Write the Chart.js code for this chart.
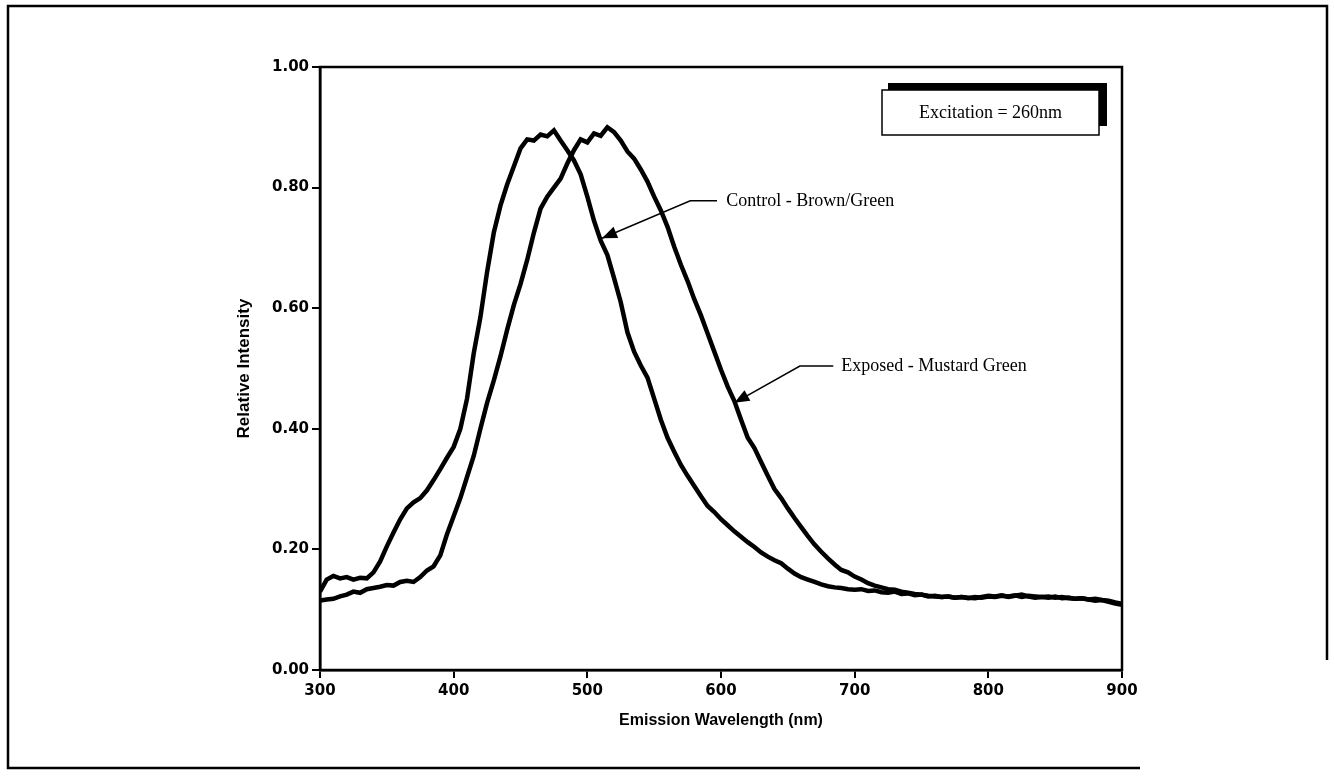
<!DOCTYPE html>
<html>
<head>
<meta charset="utf-8">
<script src="https://cdn.jsdelivr.net/npm/chart.js@4.4.1/dist/chart.umd.min.js"></script>
<style>
  html, body { margin: 0; padding: 0; background: #fff; }
  canvas { display: block; }
</style>
</head>
<body>
<canvas id="chart" width="1335" height="776"></canvas>
<script>
const tickFont = { family: "'DejaVu Sans', sans-serif", size: 15, weight: 'bold' };
const xTitleFont = { family: "'Liberation Sans', Arial, sans-serif", size: 16, weight: 'bold' };
const yTitleFont = { family: "'Liberation Sans', Arial, sans-serif", size: 17, weight: 'bold' };
const noteFont = "18px 'Liberation Serif', 'Times New Roman', serif";

// emission wavelength (nm), 5 nm steps
const wavelengths = [
  300, 305, 310, 315, 320, 325, 330, 335, 340, 345,
  350, 355, 360, 365, 370, 375, 380, 385, 390, 395,
  400, 405, 410, 415, 420, 425, 430, 435, 440, 445,
  450, 455, 460, 465, 470, 475, 480, 485, 490, 495,
  500, 505, 510, 515, 520, 525, 530, 535, 540, 545,
  550, 555, 560, 565, 570, 575, 580, 585, 590, 595,
  600, 605, 610, 615, 620, 625, 630, 635, 640, 645,
  650, 655, 660, 665, 670, 675, 680, 685, 690, 695,
  700, 705, 710, 715, 720, 725, 730, 735, 740, 745,
  750, 755, 760, 765, 770, 775, 780, 785, 790, 795,
  800, 805, 810, 815, 820, 825, 830, 835, 840, 845,
  850, 855, 860, 865, 870, 875, 880, 885, 890, 895,
  900
];

const controlBrownGreen = [
  0.130, 0.150, 0.156, 0.152, 0.154, 0.150, 0.153, 0.152, 0.162, 0.180,
  0.205, 0.228, 0.250, 0.268, 0.278, 0.285, 0.298, 0.315, 0.333, 0.352,
  0.370, 0.400, 0.450, 0.525, 0.585, 0.660, 0.725, 0.770, 0.805, 0.835,
  0.865, 0.880, 0.878, 0.888, 0.885, 0.895, 0.878, 0.862, 0.845, 0.822,
  0.785, 0.745, 0.712, 0.688, 0.650, 0.610, 0.560, 0.528, 0.505, 0.485,
  0.450, 0.415, 0.385, 0.362, 0.340, 0.322, 0.305, 0.288, 0.272, 0.262,
  0.250, 0.240, 0.230, 0.221, 0.212, 0.204, 0.195, 0.188, 0.182, 0.177,
  0.168, 0.160, 0.154, 0.150, 0.146, 0.142, 0.139, 0.137, 0.136, 0.134,
  0.133, 0.134, 0.131, 0.132, 0.129, 0.128, 0.130, 0.126, 0.127, 0.124,
  0.125, 0.122, 0.123, 0.121, 0.122, 0.120, 0.121, 0.119, 0.121, 0.120,
  0.122, 0.121, 0.123, 0.122, 0.124, 0.121, 0.123, 0.122, 0.121, 0.120,
  0.122, 0.119, 0.120, 0.118, 0.119, 0.117, 0.118, 0.116, 0.115, 0.112,
  0.110
];

const exposedMustardGreen = [
  0.115, 0.117, 0.118, 0.122, 0.125, 0.130, 0.128, 0.134, 0.136, 0.138,
  0.141, 0.140, 0.146, 0.148, 0.146, 0.154, 0.165, 0.172, 0.190, 0.225,
  0.255, 0.285, 0.320, 0.355, 0.400, 0.443, 0.480, 0.520, 0.564, 0.605,
  0.640, 0.680, 0.725, 0.765, 0.785, 0.800, 0.815, 0.840, 0.862, 0.880,
  0.875, 0.890, 0.886, 0.900, 0.892, 0.878, 0.860, 0.848, 0.830, 0.810,
  0.785, 0.762, 0.735, 0.702, 0.672, 0.645, 0.615, 0.588, 0.558, 0.528,
  0.498, 0.470, 0.446, 0.415, 0.385, 0.368, 0.345, 0.322, 0.300, 0.285,
  0.268, 0.252, 0.237, 0.222, 0.208, 0.196, 0.185, 0.175, 0.166, 0.162,
  0.155, 0.150, 0.144, 0.140, 0.137, 0.134, 0.133, 0.130, 0.128, 0.126,
  0.125, 0.123, 0.122, 0.121, 0.122, 0.120, 0.121, 0.120, 0.119, 0.121,
  0.123, 0.122, 0.124, 0.121, 0.123, 0.125, 0.122, 0.120, 0.121, 0.122,
  0.120, 0.121, 0.119, 0.118, 0.119, 0.117, 0.115, 0.116, 0.113, 0.110,
  0.108
];

const seriesNames = ['Control - Brown/Green', 'Exposed - Mustard Green'];
const boxLabel = 'Excitation = 260nm';

const toPoints = (values) => values.map((v, i) => ({ x: wavelengths[i], y: v }));

// callouts: arrow tip / elbow / end and label start, in data units
const callouts = [
  { text: seriesNames[0], tip: [511, 0.716], elbow: [577, 0.778], end: [597, 0.778], textX: 604 },
  { text: seriesNames[1], tip: [610, 0.443], elbow: [659, 0.504], end: [684, 0.504], textX: 690 }
];

const decorations = {
  id: 'decorations',
  beforeDraw(chart) {
    const ctx = chart.ctx;
    ctx.save();
    ctx.fillStyle = '#fff';
    ctx.fillRect(0, 0, chart.width, chart.height);
    // page frame (scan fades out at the bottom right)
    ctx.strokeStyle = '#000';
    ctx.lineWidth = 2.5;
    ctx.beginPath();
    ctx.moveTo(1327, 660);
    ctx.lineTo(1327, 6);
    ctx.lineTo(8, 6);
    ctx.lineTo(8, 768);
    ctx.lineTo(1140, 768);
    ctx.stroke();
    ctx.restore();
  },
  afterDraw(chart) {
    const ctx = chart.ctx;
    const { left, top, right, bottom } = chart.chartArea;
    const xs = chart.scales.x, ys = chart.scales.y;
    ctx.save();
    // plot box
    ctx.strokeStyle = '#000';
    ctx.lineWidth = 2.5;
    ctx.strokeRect(left, top, right - left, bottom - top);

    // callouts
    ctx.lineWidth = 1.5;
    ctx.fillStyle = '#000';
    ctx.font = noteFont;
    ctx.textBaseline = 'middle';
    callouts.forEach(c => {
      const tx = xs.getPixelForValue(c.tip[0]), ty = ys.getPixelForValue(c.tip[1]);
      const ex = xs.getPixelForValue(c.elbow[0]), ey = ys.getPixelForValue(c.elbow[1]);
      const nx = xs.getPixelForValue(c.end[0]), ny = ys.getPixelForValue(c.end[1]);
      ctx.beginPath();
      ctx.moveTo(nx, ny);
      ctx.lineTo(ex, ey);
      ctx.lineTo(tx, ty);
      ctx.stroke();
      const a = Math.atan2(ty - ey, tx - ex);
      const len = 15, half = 6;
      ctx.beginPath();
      ctx.moveTo(tx, ty);
      ctx.lineTo(tx - len * Math.cos(a) + half * Math.sin(a), ty - len * Math.sin(a) - half * Math.cos(a));
      ctx.lineTo(tx - len * Math.cos(a) - half * Math.sin(a), ty - len * Math.sin(a) + half * Math.cos(a));
      ctx.closePath();
      ctx.fill();
      ctx.fillText(c.text, xs.getPixelForValue(c.textX), ny);
    });

    // excitation box with shadow
    const bx = right - 240, by = top + 23, bw = 217, bh = 45;
    ctx.fillStyle = '#000';
    ctx.fillRect(bx + 6, by - 7, bw + 2, bh - 2);
    ctx.fillStyle = '#fff';
    ctx.fillRect(bx, by, bw, bh);
    ctx.lineWidth = 1.5;
    ctx.strokeRect(bx, by, bw, bh);
    ctx.fillStyle = '#000';
    ctx.textAlign = 'center';
    ctx.fillText(boxLabel, bx + bw / 2, by + bh / 2 + 1);
    ctx.restore();
  }
};

const lineStyle = {
  borderColor: '#000',
  borderWidth: 4.5,
  pointRadius: 0,
  tension: 0,
  fill: false
};

new Chart(document.getElementById('chart'), {
  type: 'line',
  data: {
    datasets: [
      { label: seriesNames[0], data: toPoints(controlBrownGreen), ...lineStyle },
      { label: seriesNames[1], data: toPoints(exposedMustardGreen), ...lineStyle }
    ]
  },
  options: {
    responsive: false,
    animation: false,
    layout: { padding: { left: 231, right: 213, top: 67, bottom: 42 } },
    plugins: { legend: { display: false }, tooltip: { enabled: false } },
    scales: {
      x: {
        type: 'linear',
        min: 300, max: 900,
        ticks: { stepSize: 100, color: '#000', font: tickFont, padding: 4, maxRotation: 0 },
        grid: { display: true, drawOnChartArea: false, drawTicks: true, tickLength: 8, color: '#000', lineWidth: 2 },
        border: { display: true, color: '#000', width: 2.5 },
        title: { display: true, text: 'Emission Wavelength (nm)', color: '#000', font: xTitleFont, padding: 4 },
        afterFit(scale) { scale.height = 64; }
      },
      y: {
        min: 0, max: 1,
        ticks: { stepSize: 0.2, color: '#000', font: tickFont, padding: 3, callback: v => Number(v).toFixed(2) },
        grid: { display: true, drawOnChartArea: false, drawTicks: true, tickLength: 8, color: '#000', lineWidth: 2 },
        border: { display: true, color: '#000', width: 2.5 },
        title: { display: true, text: 'Relative Intensity', color: '#000', font: yTitleFont, padding: 3 },
        afterFit(scale) { scale.width = 89; }
      }
    }
  },
  plugins: [decorations]
});
</script>
</body>
</html>
